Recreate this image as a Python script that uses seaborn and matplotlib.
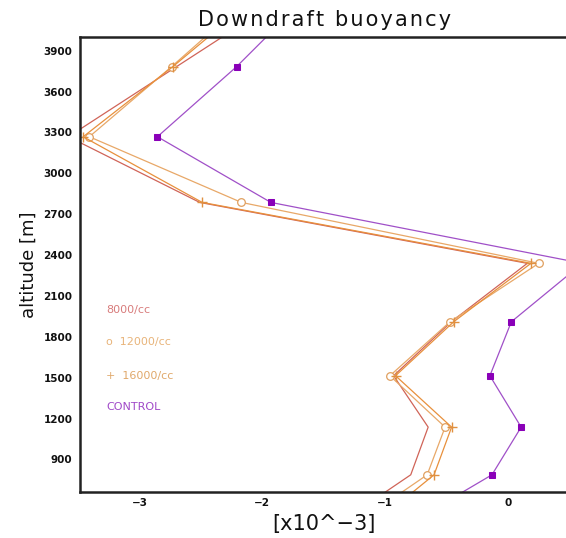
import matplotlib
matplotlib.use("Agg")
import matplotlib.pyplot as plt
import seaborn as sns
import pandas as pd

# Model levels (m) and downdraft buoyancy profiles (x10^-3)
altitude = [457, 787, 1137, 1514, 1910, 2339, 2786, 3268, 3782, 4330]
control = [-0.75, -0.128, 0.11, -0.145, 0.03, 0.61, -1.93, -2.855, -2.21, -1.6]
ccn_8000 = [-1.33, -0.79, -0.648, -0.93, -0.46, 0.16, -2.51, -3.58, -2.70, -1.76]
ccn_12000 = [-1.19, -0.656, -0.51, -0.96, -0.47, 0.253, -2.17, -3.41, -2.74, -2.05]
ccn_16000 = [-1.05, -0.60, -0.457, -0.914, -0.44, 0.19, -2.49, -3.46, -2.73, -2.0]

series_names = ["8000/cc", "12000/cc", "16000/cc", "CONTROL"]
legend_labels = ["8000/cc", "o  12000/cc", "+  16000/cc", "CONTROL"]
y_ticks = [900, 1200, 1500, 1800, 2100, 2400, 2700, 3000, 3300, 3600, 3900]
x_ticks = [-3, -2, -1, 0]
title_text = "Downdraft buoyancy"
xlabel_text = "[x10^\u22123]"
ylabel_text = "altitude [m]"

frames = []
for name, vals in zip(series_names, [ccn_8000, ccn_12000, ccn_16000, control]):
    frames.append(pd.DataFrame({"buoyancy": vals, "altitude": altitude, "run": name}))
df = pd.concat(frames, ignore_index=True)

sns.set_style("white")
plt.rcParams["font.family"] = ["DejaVu Sans"]
plt.rcParams["text.color"] = "#111111"
plt.rcParams["axes.labelcolor"] = "#111111"
plt.rcParams["xtick.color"] = "#111111"
plt.rcParams["ytick.color"] = "#111111"

fig = plt.figure(figsize=(5.66, 5.38), dpi=100)
ax = fig.add_axes([79.5 / 566, 46.3 / 538, 489.5 / 566, 454.7 / 538])

styles = {
    "8000/cc": dict(color="#d06458"),
    "12000/cc": dict(color="#e8a868", marker="o", markerfacecolor="white",
                     markeredgecolor="#e0a060", markersize=5.5, markeredgewidth=0.9),
    "16000/cc": dict(color="#e8903c", marker="+", markeredgecolor="#e09040",
                     markersize=7, markeredgewidth=1.0),
    "CONTROL": dict(color="#a050c8", marker="s", markerfacecolor="#8a00b8",
                    markeredgecolor="#8a00b8", markersize=5),
}
for name in series_names:
    sub = df[df["run"] == name]
    sns.lineplot(data=sub, x="buoyancy", y="altitude", sort=False, estimator=None,
                 linewidth=0.9, ax=ax, legend=False, **styles[name])

ax.set_xlim(-3.49, 0.5)
ax.set_ylim(663, 4000)
ax.set_yticks(y_ticks)
ax.set_yticklabels([str(t) for t in y_ticks], fontsize=7.5, fontweight="bold")
ax.set_xticks(x_ticks)
ax.set_xticklabels(["\u22123", "\u22122", "\u22121", "0"], fontsize=7.5, fontweight="bold")
ax.tick_params(axis="y", direction="out", length=3, width=1, pad=2)
ax.tick_params(axis="x", direction="inout", length=5, width=1, pad=2)

for side in ("left", "bottom", "top"):
    ax.spines[side].set_color("#222222")
    ax.spines[side].set_linewidth(1.8)
ax.spines["right"].set_visible(False)

ax.set_xlabel(xlabel_text, fontsize=15, labelpad=4)
ax.set_ylabel(ylabel_text, fontsize=13, labelpad=4)
# widen the title's letter spacing with hair spaces
ax.set_title("\u200a".join(title_text), fontsize=15, pad=8)

label_colors = ["#d87c7c", "#e8b47a", "#e0a86a", "#a048c8"]
label_y = [1996, 1761, 1511, 1284]
for text, col, yv in zip(legend_labels, label_colors, label_y):
    ax.text(-3.27, yv, text, color=col, fontsize=8, va="center", ha="left")

fig.savefig("out.png", dpi=100)
